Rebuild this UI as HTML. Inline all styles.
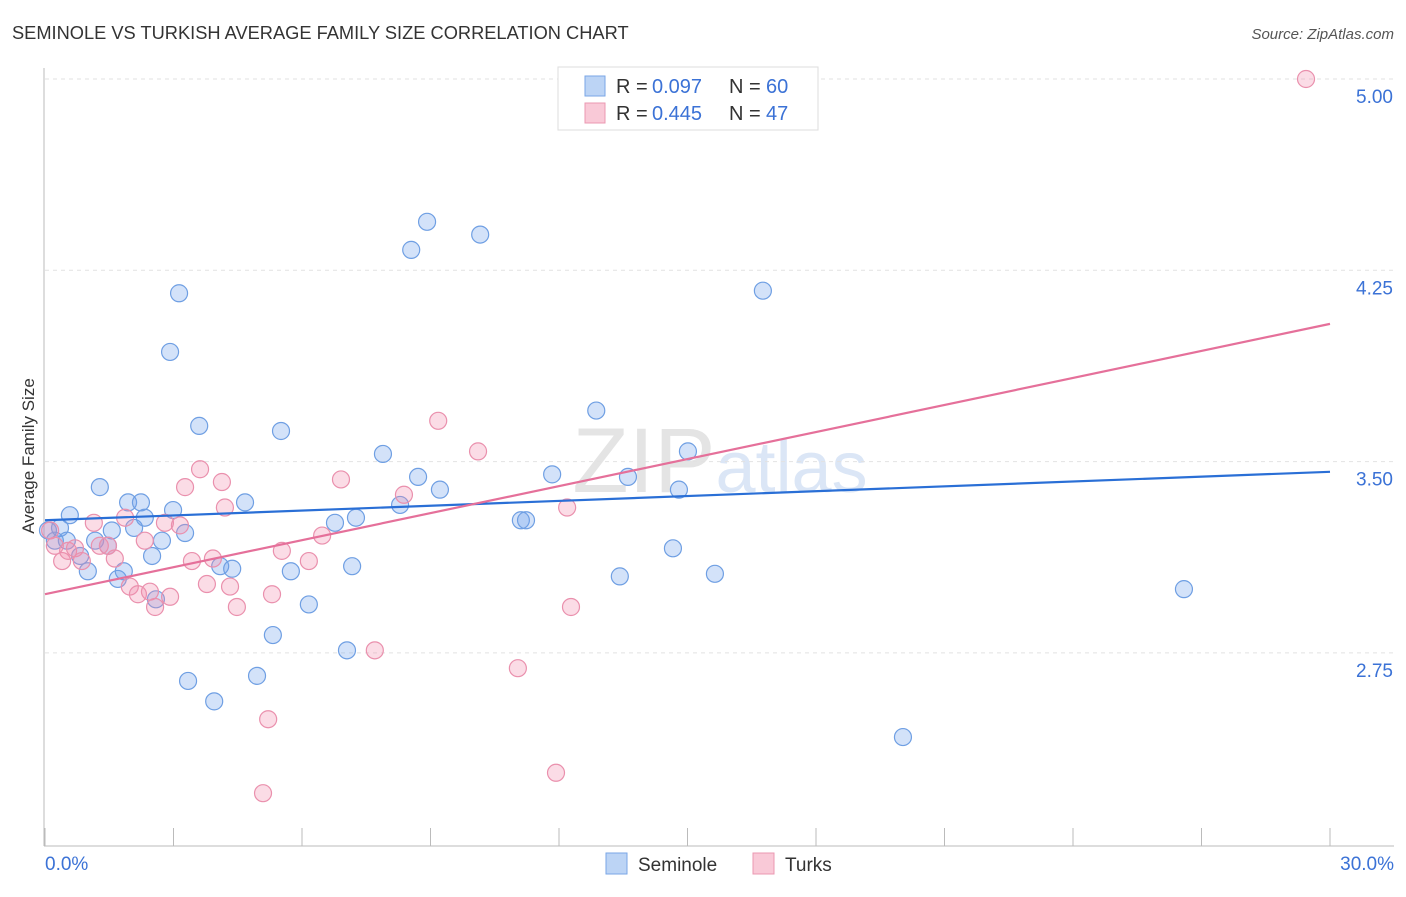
<!DOCTYPE html>
<html><head><meta charset="utf-8"><style>
body{margin:0;background:#fff;font-family:"Liberation Sans",sans-serif}
svg text{font-family:"Liberation Sans",sans-serif}
</style></head><body>
<svg width="1406" height="892" viewBox="0 0 1406 892" xmlns="http://www.w3.org/2000/svg">
<text x="12" y="39" font-size="18.25" fill="#333">SEMINOLE VS TURKISH AVERAGE FAMILY SIZE CORRELATION CHART</text>
<text x="1394" y="39" font-size="15" fill="#555" text-anchor="end" font-style="italic">Source: ZipAtlas.com</text>
<text x="720" y="492" font-size="92" fill="#e8e8ee" text-anchor="middle" font-family="Liberation Serif"><tspan fill="#e4e4e4">ZIP</tspan><tspan fill="#dbe6f6" font-family="Liberation Sans" font-size="72">atlas</tspan></text>
<g id="grid"></g>
<g id="axes"></g>
<g id="marks"></g>
<text transform="translate(34,456) rotate(-90)" font-size="17" fill="#333" text-anchor="middle">Average Family Size</text>
<g>
<rect x="558" y="67" width="260" height="63" fill="#fff" stroke="#ddd"/>
<rect x="585" y="76" width="20" height="20" fill="#bcd4f5" stroke="#7aa6e6"/>
<rect x="585" y="103" width="20" height="20" fill="#f9c9d7" stroke="#eb98b2"/>
<text y="93" font-size="20" fill="#333"><tspan x="616">R =</tspan><tspan x="652" fill="#3b72d6">0.097</tspan><tspan x="729">N =</tspan><tspan x="766" fill="#3b72d6">60</tspan></text>
<text y="120" font-size="20" fill="#333"><tspan x="616">R =</tspan><tspan x="652" fill="#3b72d6">0.445</tspan><tspan x="729">N =</tspan><tspan x="766" fill="#3b72d6">47</tspan></text>
</g>
<g>
<rect x="606" y="853" width="21" height="21" fill="#bcd4f5" stroke="#7aa6e6"/>
<text x="638" y="871" font-size="19" fill="#333">Seminole</text>
<rect x="753" y="853" width="21" height="21" fill="#f9c9d7" stroke="#eb98b2"/>
<text x="785" y="871" font-size="19" fill="#333">Turks</text>
</g>
</svg>
<script>
const blueX=[0.07,0.23,0.35,0.58,0.51,0.82,1.00,1.17,1.28,1.47,1.56,1.70,1.84,1.94,2.08,2.24,2.33,2.50,2.59,2.73,2.92,2.99,3.13,3.27,3.34,3.60,3.95,4.09,4.37,4.67,4.95,5.32,5.51,5.74,6.16,6.77,7.05,7.17,7.26,7.89,8.29,8.55,8.71,8.92,9.22,10.16,11.11,11.23,11.84,12.87,13.42,13.61,14.66,14.80,15.01,15.64,16.76,20.03,26.59];
const blueY=[3.23,3.19,3.24,3.29,3.19,3.13,3.07,3.19,3.40,3.17,3.23,3.04,3.07,3.34,3.24,3.34,3.28,3.13,2.96,3.19,3.93,3.31,4.16,3.22,2.64,3.64,2.56,3.09,3.08,3.34,2.66,2.82,3.62,3.07,2.94,3.26,2.76,3.09,3.28,3.53,3.33,4.33,3.44,4.44,3.39,4.39,3.27,3.27,3.45,3.70,3.05,3.44,3.16,3.39,3.54,3.06,4.17,2.42,3.00];
const pinkX=[0.12,0.23,0.40,0.54,0.70,0.86,1.14,1.28,1.47,1.63,1.87,1.98,2.17,2.33,2.45,2.57,2.80,2.92,3.15,3.27,3.43,3.62,3.78,3.92,4.13,4.20,4.32,4.48,5.21,5.30,5.09,5.53,6.16,6.47,6.91,7.70,8.38,9.18,10.11,11.04,11.93,12.19,12.28,29.44];
const pinkY=[3.23,3.17,3.11,3.15,3.16,3.11,3.26,3.17,3.17,3.12,3.28,3.01,2.98,3.19,2.99,2.93,3.26,2.97,3.25,3.40,3.11,3.47,3.02,3.12,3.42,3.32,3.01,2.93,2.49,2.98,2.20,3.15,3.11,3.21,3.43,2.76,3.37,3.66,3.54,2.69,2.28,3.32,2.93,5.00];
const blueTrend=[3.27,3.46];
const pinkTrend=[2.98,4.04];
const trendX=[0,30];
const yTicks=[5.00,4.25,3.50,2.75];
const xTicks=[0,3,6,9,12,15,18,21,24,27,30];
const NS='http://www.w3.org/2000/svg';
const sx=v=>45+v/30*1285;
const sy=v=>79+(5-v)/0.75*191.3;
function mk(tag,attrs,parent){const e=document.createElementNS(NS,tag);for(const k in attrs)e.setAttribute(k,attrs[k]);document.getElementById(parent).appendChild(e);return e;}
yTicks.forEach(t=>{
  const g=mk('line',{x1:45,x2:1394,y1:sy(t),y2:sy(t),stroke:'#e2e2e2','stroke-dasharray':'4 4'},'grid');
  
  
  const l=mk('text',{x:1393,y:sy(t)+24,'font-size':19,fill:'#3b72d6','text-anchor':'end'},'axes');
  l.textContent=t.toFixed(2);
  
  
});
const ax=mk('line',{x1:44,x2:44,y1:68,y2:846,stroke:'#bbb'},'axes');


const bx=mk('line',{x1:44,x2:1394,y1:846,y2:846,stroke:'#bbb'},'axes');


xTicks.forEach(t=>{
  const k=mk('line',{x1:sx(t),x2:sx(t),y1:828,y2:846,stroke:'#bbb'},'axes');
  
  
});
const x0=mk('text',{x:45,y:870,'font-size':19,fill:'#3b72d6'},'axes');x0.textContent=xTicks[0].toFixed(1)+'%';


const x1=mk('text',{x:1394,y:870,'font-size':19,fill:'#3b72d6','text-anchor':'end'},'axes');x1.textContent=xTicks[xTicks.length-1].toFixed(1)+'%';


function pts(X,Y,fill,stroke,name){X.forEach((v,i)=>{
  const c=mk('circle',{cx:sx(v),cy:sy(Y[i]),r:8.5,fill:fill,stroke:stroke,'stroke-width':1.2},'marks');
  
  
});}
pts(blueX,blueY,'rgba(110,160,235,0.3)','#6f9fe3','seminole-point');
pts(pinkX,pinkY,'rgba(242,140,172,0.3)','#ea90ad','turks-point');
const bl=mk('line',{x1:sx(trendX[0]),x2:sx(trendX[1]),y1:sy(blueTrend[0]),y2:sy(blueTrend[1]),stroke:'#2a6fd6','stroke-width':2.2},'marks');


const pl=mk('line',{x1:sx(trendX[0]),x2:sx(trendX[1]),y1:sy(pinkTrend[0]),y2:sy(pinkTrend[1]),stroke:'#e5709a','stroke-width':2.2},'marks');


</script>
</body></html>
